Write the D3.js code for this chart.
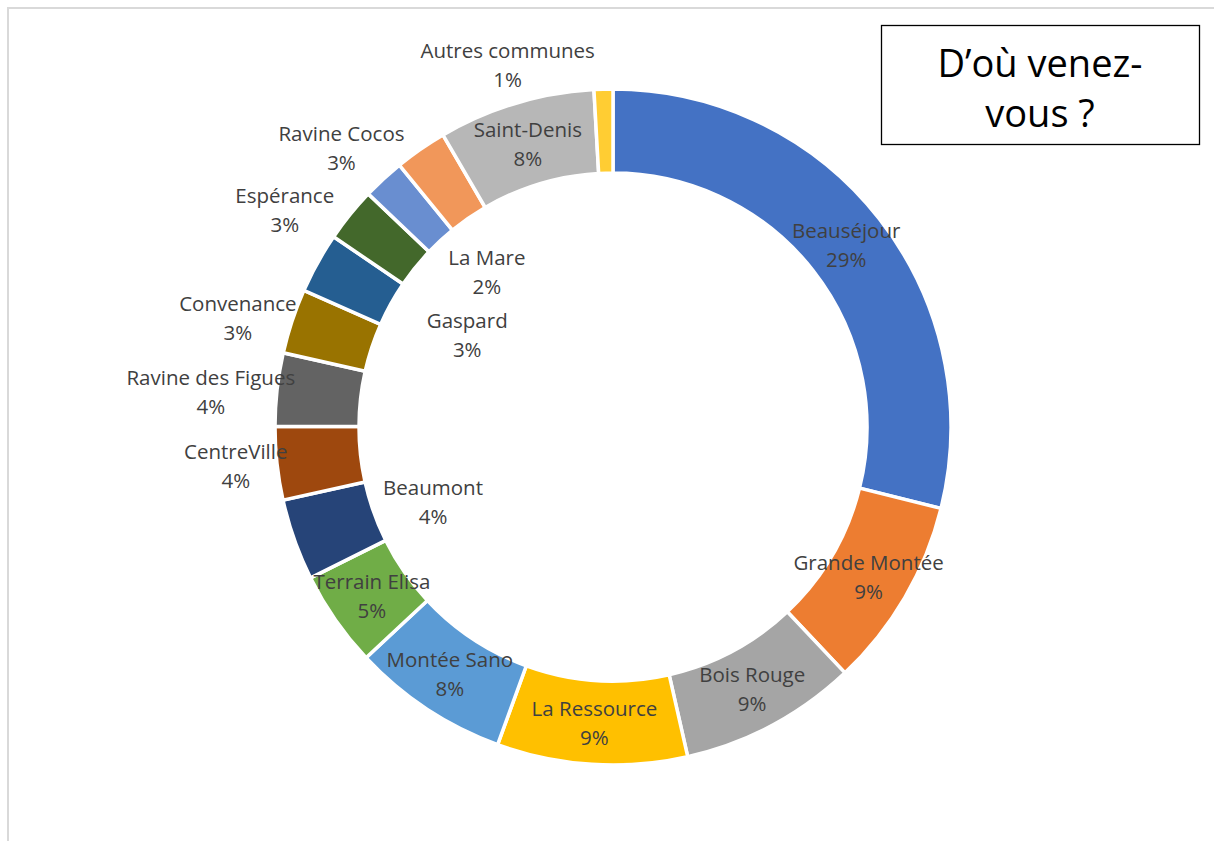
<!DOCTYPE html>
<html><head><meta charset="utf-8">
<script src="https://cdn.jsdelivr.net/npm/d3@7"></script>
<style>html,body{margin:0;padding:0;background:#fff;} svg{display:block;}</style>
</head><body><svg id="c" width="1214" height="841"></svg>
<script>
// ---- data ----
const categories = ["Beauséjour","Grande Montée","Bois Rouge","La Ressource","Montée Sano","Terrain Elisa","Beaumont","CentreVille","Ravine des Figues","Convenance","Gaspard","Espérance","La Mare","Ravine Cocos","Saint-Denis","Autres communes"];
const values = [28.9, 9.1, 8.5, 9.1, 7.5, 4.6, 3.9, 3.5, 3.5, 3.1, 2.9, 2.6, 2.0, 2.5, 7.5, 0.9];
const titleLines = ["D\u2019où venez-", "vous ?"];

// ---- styling / layout (not data) ----
const colors = ["#4472C4","#ED7D31","#A5A5A5","#FFC000","#5B9BD5","#70AD47","#264478","#9E480E","#636363","#997300","#255E91","#43682B","#698ED0","#F1975A","#B7B7B7","#FFCD33"];
const labelNudge = [[0,0],[0,0],[0,0],[0,0],[0,0],[2,0],[99,-24],[-83,7],[-108,-3],[-94,-17],[113,51],[-98,-31],[75,62],[-103,-36],[0,0],[-97,-67]];

const W = 1214, H = 841, cx = 613, cy = 427;
const svg = d3.select("#c");
svg.append("rect").attr("width", W).attr("height", H).attr("fill", "#fff");

// frame lines
svg.append("line").attr("x1", 8).attr("x2", 8).attr("y1", 7).attr("y2", H).attr("stroke", "#d9d9d9").attr("stroke-width", 2);
svg.append("line").attr("x1", 7).attr("x2", W).attr("y1", 8).attr("y2", 8).attr("stroke", "#d9d9d9").attr("stroke-width", 2);

const data = categories.map((c, i) => ({ name: c, value: values[i], color: colors[i], nudge: labelNudge[i] }));
const pie = d3.pie().sort(null).value(d => d.value).startAngle(0).endAngle(2 * Math.PI);
const arcs = pie(data);
const arc = d3.arc().innerRadius(254).outerRadius(338);
const labelArc = d3.arc().innerRadius(296).outerRadius(296);

const g = svg.append("g").attr("transform", `translate(${cx},${cy})`);
g.selectAll("path.slice").data(arcs).enter().append("path")
  .attr("class", "slice")
  .attr("d", arc)
  .attr("fill", d => d.data.color)
  .attr("stroke", "#fff")
  .attr("stroke-width", 3.5)
  .attr("stroke-linejoin", "miter");

const lab = g.selectAll("g.lab").data(arcs).enter().append("g").attr("class", "lab")
  .attr("transform", d => {
    const c = labelArc.centroid(d);
    return `translate(${c[0] + d.data.nudge[0]},${c[1] + d.data.nudge[1]})`;
  });
lab.append("text").attr("y", -14.5).attr("dominant-baseline", "central").attr("text-anchor", "middle")
  .attr("font-family", "'Open Sans', sans-serif").attr("font-size", 20.5).attr("fill", "#404040")
  .text(d => d.data.name);
lab.append("text").attr("y", 14.5).attr("dominant-baseline", "central").attr("text-anchor", "middle")
  .attr("font-family", "'Open Sans', sans-serif").attr("font-size", 20.5).attr("fill", "#404040")
  .text(d => Math.round(d.data.value) + "%");

// title box
svg.append("rect").attr("x", 881.5).attr("y", 25.5).attr("width", 318).attr("height", 119)
  .attr("fill", "#fff").attr("stroke", "#000").attr("stroke-width", 1.3);
svg.selectAll("text.title").data(titleLines).enter().append("text").attr("class", "title")
  .attr("x", 1040).attr("y", (d, i) => 77 + i * 50).attr("text-anchor", "middle")
  .attr("font-family", "'Open Sans', sans-serif").attr("font-size", 38).attr("fill", "#000")
  .text(d => d);
</script>
</body></html>
